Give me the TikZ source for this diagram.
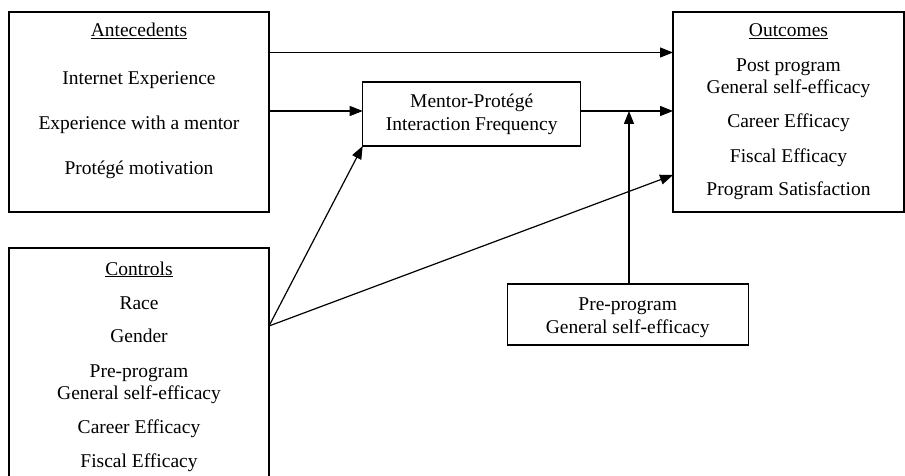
\documentclass[tikz,border=0pt]{standalone}
\usepackage{fontspec}
\setmainfont{Liberation Serif}
\usetikzlibrary{arrows.meta}
\begin{document}
\begin{tikzpicture}[x=1pt,y=-1pt,
 box/.style={draw, line width=1.2pt, rectangle, inner sep=0pt, outer sep=0pt, anchor=north west},
 lbl/.style={anchor=base, inner sep=0pt, font=\fontsize{19.5}{22}\selectfont},
 arr/.style={line width=1.2pt, -{Triangle[length=13pt,width=10pt]}}]
\clip (0,0) rectangle (905,476);
% boxes
\node[box, minimum width=260pt, minimum height=200pt] (ante) at (9,12) {};
\node[box, minimum width=231pt, minimum height=200pt] (out) at (673,12) {};
\node[box, minimum width=218pt, minimum height=64pt] (ment) at (362.7,82) {};
\node[box, minimum width=260pt, minimum height=250pt] (ctrl) at (9,248) {};
\node[box, minimum width=241pt, minimum height=61pt] (pre) at (507.3,284) {};
% antecedents text
\node[lbl] (a0) at (139,37) {\underline{Antecedents}};
\node[lbl] (a1) at (139,85) {Internet Experience};
\node[lbl] (a2) at (139,130) {Experience with a mentor};
\node[lbl] (a3) at (139,175) {Protégé motivation};
% outcomes text
\node[lbl] (o0) at (788.5,37) {\underline{Outcomes}};
\node[lbl] (o1) at (788.5,72) {Post program};
\node[lbl] (o2) at (788.5,94) {General self-efficacy};
\node[lbl] (o3) at (788.5,128) {Career Efficacy};
\node[lbl] (o4) at (788.5,162) {Fiscal Efficacy};
\node[lbl] (o5) at (788.5,195) {Program Satisfaction};
% mentor text
\node[lbl] (m1) at (471.7,108) {Mentor-Protégé};
\node[lbl] (m2) at (471.7,130.5) {Interaction Frequency};
% controls text
\node[lbl] (c0) at (139,275) {\underline{Controls}};
\node[lbl] (c1) at (139,309) {Race};
\node[lbl] (c2) at (139,342) {Gender};
\node[lbl] (c3) at (139,377) {Pre-program};
\node[lbl] (c4) at (139,399) {General self-efficacy};
\node[lbl] (c5) at (139,433) {Career Efficacy};
\node[lbl] (c6) at (139,467) {Fiscal Efficacy};
% pre-program text
\node[lbl] (p1) at (627.7,310) {Pre-program};
\node[lbl] (p2) at (627.7,333) {General self-efficacy};
% connector points
\coordinate (y1) at (0,52.5);
\coordinate (y2) at (0,111);
\coordinate (y3) at (0,175);
\coordinate (yc) at (0,326);
\coordinate (xp) at (629,0);
\coordinate (cp) at (ctrl.east |- yc);
\coordinate (mo) at (xp |- y2);
% connectors
\draw[arr] (ante.east |- y1) -- (out.west |- y1);
\draw[arr] (ante.east |- y2) -- (ment.west |- y2);
\draw[arr] (ment.east |- y2) -- (out.west |- y2);
\draw[arr] (cp) -- (ment.south west);
\draw[arr] (cp) -- (out.west |- y3);
\draw[arr] (pre.north -| xp) -- (mo);
\end{tikzpicture}
\end{document}
